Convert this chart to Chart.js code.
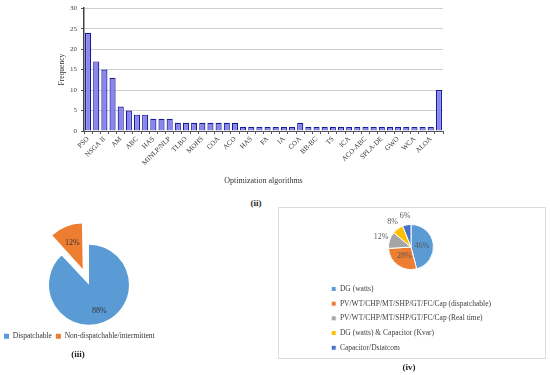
<!DOCTYPE html>
<html>
<head>
<meta charset="utf-8">
<script src="https://cdn.jsdelivr.net/npm/chart.js@4.4.1/dist/chart.umd.min.js"></script>
<style>
  body { margin: 0; background: #fff; width: 550px; height: 375px; position: relative; overflow: hidden; }
  canvas { position: absolute; }
  .cap { position: absolute; font: bold 9px "Liberation Serif", serif; color: #222; transform: translate(-50%, -50%); }
  #box { position: absolute; left: 278px; top: 207px; width: 268px; height: 152px; border: 1px solid #dcdcdc; box-sizing: border-box; }
</style>
</head>
<body>
<div id="box"></div>
<canvas id="bars" width="550" height="190" style="left:0;top:0"></canvas>
<canvas id="mix" width="178" height="130" style="left:0;top:220px"></canvas>
<canvas id="units" width="200" height="180" style="left:324px;top:178px"></canvas>
<div class="cap" style="left:256px;top:203px">(ii)</div>
<div class="cap" style="left:78px;top:354px">(iii)</div>
<div class="cap" style="left:409px;top:367px">(iv)</div>

<script>
// (ii) frequence des algorithmes (etiquettes vides = non lisibles sur la figure)
const algoLabels = ['PSO', '', 'NSGA II', '', 'AM', '', 'ABC', '', 'HAS', '', 'MINLP/NLP', '',
  'TLBO', '', 'MOHS', '', 'COA', '', 'ACO', '', 'HAS', '', 'FA', '', 'IA', '', 'COA', '',
  'BB-BC', '', 'TS', '', 'ICA', '', 'ACO-ABC', '', 'SPLA-DE', '', 'GWO', '', 'WCA', '', 'ALOA', ''];
const frequency = [24, 17, 15, 13, 6, 5, 4, 4, 3, 3, 3,
  2, 2, 2, 2, 2, 2, 2, 2,
  1, 1, 1, 1, 1, 1, 1,
  2,
  1, 1, 1, 1, 1, 1, 1, 1, 1, 1, 1, 1, 1, 1, 1, 1,
  10];
const freqTicks = [0, 5, 10, 15, 20, 25, 30];

// (iii)
const mixLabels = ['Dispatchable', 'Non-dispatchable/intermittent'];
const mixShare = [88, 12];

// (iv)
const unitLabels = ['DG (watts)', 'PV/WT/CHP/MT/SHP/GT/FC/Cap (dispatchable)',
  'PV/WT/CHP/MT/SHP/GT/FC/Cap (Real time)', 'DG (watts) & Capacitor (Kvar)', 'Capacitor/Dstatcom'];
const unitShare = [46, 28, 12, 8, 6];

const serif = 'Liberation Serif';

// etiquettes de pourcentage sur les parts
const pctLabels = {
  id: 'pctLabels',
  afterDatasetsDraw(chart, args, opts) {
    const ctx = chart.ctx;
    const values = chart.data.datasets[0].data;
    ctx.save();
    ctx.font = opts.font;
    ctx.fillStyle = opts.color;
    ctx.textAlign = 'center';
    ctx.textBaseline = 'middle';
    chart.getDatasetMeta(0).data.forEach((arc, i) => {
      const p = arc.getProps(['x', 'y', 'startAngle', 'endAngle', 'outerRadius'], true);
      const mid = (p.startAngle + p.endAngle) / 2;
      const off = (arc.options.offset || 0) / 4;
      const dist = values[i] < opts.outsideBelow ? p.outerRadius + opts.outside : off + p.outerRadius * opts.inside;
      ctx.fillText(values[i] + '%', p.x + Math.cos(mid) * dist, p.y + Math.sin(mid) * dist);
    });
    ctx.restore();
  }
};

new Chart(document.getElementById('bars'), {
  type: 'bar',
  data: {
    labels: algoLabels,
    datasets: [{
      data: frequency,
      backgroundColor: '#8787ee',
      borderColor: '#1a1a96',
      borderWidth: 1.2,
      barPercentage: 0.75,
      categoryPercentage: 1
    }]
  },
  options: {
    responsive: false,
    animation: false,
    layout: { padding: { left: 56, right: 107, top: 0, bottom: 4 } },
    plugins: { legend: { display: false }, tooltip: { enabled: false } },
    scales: {
      x: {
        offset: true,
        grid: { drawOnChartArea: false, tickLength: 3, color: '#555' },
        border: { color: '#555' },
        ticks: { autoSkip: false, minRotation: 45, maxRotation: 45, padding: 1, color: '#333', font: { family: serif, size: 7 } },
        title: { display: true, text: 'Optimization algorithms', color: '#333', font: { family: serif, size: 8 }, padding: { top: 2, bottom: 0 } },
        afterFit: (s) => { s.height = 55; }
      },
      y: {
        min: 0,
        max: 30,
        afterBuildTicks: (s) => { s.ticks = freqTicks.map((v) => ({ value: v })); },
        grid: { color: '#cfcfcf', tickLength: 3, tickColor: '#555' },
        border: { color: '#444', width: 1.5 },
        ticks: { padding: 4, color: '#444', font: { family: serif, size: 7 } },
        title: { display: true, text: 'Frequency', color: '#333', font: { family: serif, size: 7.5 }, padding: { top: 2, bottom: 0 } },
        afterFit: (s) => { s.width = 28; }
      }
    }
  }
});

new Chart(document.getElementById('mix'), {
  type: 'pie',
  data: {
    labels: mixLabels,
    datasets: [{
      data: mixShare,
      backgroundColor: ['#5b9bd5', '#ed7d31'],
      borderWidth: 0,
      offset: [0, 68],
      radius: 40
    }]
  },
  options: {
    responsive: false,
    animation: false,
    layout: { padding: { top: 21 } },
    plugins: {
      tooltip: { enabled: false },
      legend: {
        position: 'bottom',
        align: 'start',
        labels: { boxWidth: 5, boxHeight: 5, padding: 4, color: '#333', font: { family: serif, size: 7.5 } }
      },
      pctLabels: { font: '8px "Liberation Serif"', color: '#333', inside: 0.7, outsideBelow: 0, outside: 0 }
    }
  },
  plugins: [pctLabels]
});

new Chart(document.getElementById('units'), {
  type: 'pie',
  data: {
    labels: unitLabels,
    datasets: [{
      data: unitShare,
      backgroundColor: ['#5b9bd5', '#ed7d31', '#a5a5a5', '#ffc000', '#4472c4'],
      borderColor: '#fff',
      borderWidth: 1,
      radius: 22.5
    }]
  },
  options: {
    responsive: false,
    animation: false,
    layout: { padding: { top: 38, right: 26 } },
    plugins: {
      tooltip: { enabled: false },
      legend: {
        position: 'bottom',
        align: 'start',
        maxHeight: 80,
        labels: { boxWidth: 5, boxHeight: 5, padding: 7.2, color: '#404040', font: { family: serif, size: 7.5 } }
      },
      pctLabels: { font: '8px "Liberation Serif"', color: '#595959', inside: 0.5, outsideBelow: 15, outside: 9 }
    }
  },
  plugins: [pctLabels]
});
</script>
</body>
</html>
